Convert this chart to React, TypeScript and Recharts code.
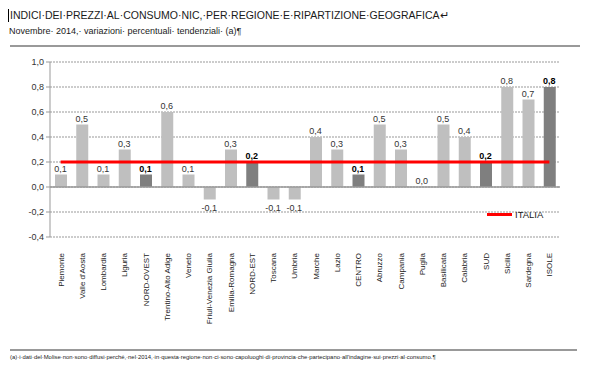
import React from "react";
import {
  ComposedChart,
  Bar,
  Line,
  Cell,
  XAxis,
  YAxis,
  CartesianGrid,
  ReferenceLine,
  LabelList,
  Legend,
} from "recharts";

const regions = [
  "Piemonte", "Valle d'Aosta", "Lombardia", "Liguria", "NORD-OVEST",
  "Trentino-Alto Adige", "Veneto", "Friuli-Venezia Giulia", "Emilia-Romagna", "NORD-EST",
  "Toscana", "Umbria", "Marche", "Lazio", "CENTRO",
  "Abruzzo", "Campania", "Puglia", "Basilicata", "Calabria", "SUD",
  "Sicilia", "Sardegna", "ISOLE",
];
const values = [
  0.1, 0.5, 0.1, 0.3, 0.1,
  0.6, 0.1, -0.1, 0.3, 0.2,
  -0.1, -0.1, 0.4, 0.3, 0.1,
  0.5, 0.3, 0.0, 0.5, 0.4, 0.2,
  0.8, 0.7, 0.8,
];
const italia = 0.2;
const aggregates = ["NORD-OVEST", "NORD-EST", "CENTRO", "SUD", "ISOLE"];
const yTicks = [-0.4, -0.2, 0, 0.2, 0.4, 0.6, 0.8, 1.0];

const data = regions.map((name, i) => ({ name, value: values[i], ITALIA: italia }));

const FONT = "'Liberation Sans', Arial, sans-serif";
const fmt = (v: number) => v.toFixed(1).replace(".", ",");

const XTick = (props: any) => {
  const { x, y, payload } = props;
  return (
    <text
      transform={`translate(${x + 3},${y + 8}) rotate(-90)`}
      textAnchor="end"
      fontSize={8}
      fill="#222"
      fontFamily={FONT}
    >
      {payload.value}
    </text>
  );
};

// labels hang off an invisible line through the bar tops, so the zero bar gets one too
const ValueLabel = (props: any) => {
  const { x, y, value, index } = props;
  const agg = aggregates.includes(regions[index]);
  const ty = value < 0 ? y + 11 : y - 3;
  return (
    <text
      x={x}
      y={ty}
      textAnchor="middle"
      fontSize={9}
      fontWeight={agg ? "bold" : "normal"}
      fill={agg ? "#000" : "#333"}
      fontFamily={FONT}
    >
      {fmt(value)}
    </text>
  );
};

const LegendBox = () => (
  <div style={{ display: "flex", alignItems: "center", fontFamily: FONT, fontSize: 9.5, color: "#222" }}>
    <span style={{ display: "inline-block", width: 25, height: 3, background: "#ff0000", marginRight: 3 }} />
    ITALIA
  </div>
);

export default function App() {
  return (
    <div style={{ position: "absolute", left: 0, top: 0, width: 599, height: 371, background: "#fff", fontFamily: FONT }}>
      <div style={{ position: "absolute", left: 8, top: 9, fontSize: 10.5, color: "#1a1a1a", borderLeft: "1px solid #000", paddingLeft: 1, lineHeight: "13px", whiteSpace: "nowrap" }}>
        INDICI·DEI·PREZZI·AL·CONSUMO·NIC,·PER·REGIONE·E·RIPARTIZIONE·GEOGRAFICA↵
      </div>
      <div style={{ position: "absolute", left: 9, top: 26, fontSize: 9, color: "#1a1a1a", whiteSpace: "nowrap" }}>
        Novembre· 2014,· variazioni· percentuali· tendenziali· (a)¶
      </div>
      <div style={{ position: "absolute", left: 10, top: 45, width: 570, height: 2, background: "#999" }} />
      <div style={{ position: "absolute", left: 0, top: 0 }}>
        <ComposedChart
          width={599}
          height={330}
          data={data}
          margin={{ top: 62, right: 39, left: 0, bottom: 0 }}
        >
          <CartesianGrid vertical={false} stroke="#999" strokeDasharray="2 1" />
          <XAxis
            dataKey="name"
            interval={0}
            height={82}
            axisLine={false}
            tickLine={false}
            tick={<XTick />}
          />
          <YAxis
            width={50}
            domain={[-0.4, 1.0]}
            ticks={yTicks}
            tickFormatter={fmt}
            tick={{ fontSize: 9, fill: "#333", fontFamily: FONT }}
            tickSize={4}
            stroke="#999"
            interval={0}
          />
          <ReferenceLine y={0} stroke="#999" strokeWidth={1.5} />
          <Bar dataKey="value" barSize={12} isAnimationActive={false} legendType="none">
            {data.map((d) => (
              <Cell key={d.name} fill={aggregates.includes(d.name) ? "#7f7f7f" : "#bfbfbf"} />
            ))}
          </Bar>
          <Line
            dataKey="value"
            stroke="none"
            dot={false}
            activeDot={false}
            legendType="none"
            isAnimationActive={false}
          >
            <LabelList dataKey="value" content={<ValueLabel />} />
          </Line>
          <Line
            dataKey="ITALIA"
            stroke="#ff0000"
            strokeWidth={3}
            dot={false}
            activeDot={false}
            isAnimationActive={false}
          />
          <Legend
            content={<LegendBox />}
            wrapperStyle={{ position: "absolute", left: 487, top: 209, width: 80 }}
          />
        </ComposedChart>
      </div>
      <div style={{ position: "absolute", left: 10, top: 349, width: 567, height: 2, background: "#999" }} />
      <div style={{ position: "absolute", left: 10, top: 354, fontSize: 5.9, color: "#222", whiteSpace: "nowrap" }}>
        (a)·i·dati·del·Molise·non·sono·diffusi·perché,·nel·2014,·in·questa·regione·non·ci·sono·capoluoghi·di·provincia·che·partecipano·all'indagine·sui·prezzi·al·consumo.¶
      </div>
    </div>
  );
}
